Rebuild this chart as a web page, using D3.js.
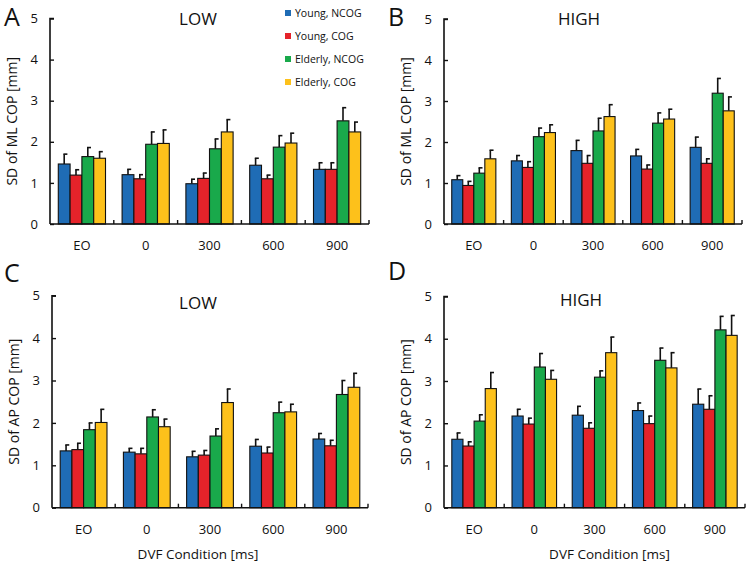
<!DOCTYPE html>
<html><head><meta charset="utf-8">
<script src="https://cdn.jsdelivr.net/npm/d3@7"></script>
<style>body{margin:0;background:#fff}svg{display:block}text{font-family:"Open Sans",sans-serif;fill:#111}</style>
</head><body><svg id="c" width="748" height="565"></svg>
<script>
const categories = ["EO","0","300","600","900"];
const seriesNames = ["Young, NCOG","Young, COG","Elderly, NCOG","Elderly, COG"];
const seriesColors = ["#1f6cb5","#e5232a","#19a94b","#fdc11b"];
const yTicks = [0,1,2,3,4,5];

// values [category][series]
const mlLowMean = [[1.46,1.19,1.64,1.60],[1.20,1.10,1.94,1.96],[0.98,1.11,1.83,2.24],[1.43,1.10,1.87,1.97],[1.33,1.33,2.51,2.24]];
const mlLowErr  = [[0.24,0.13,0.22,0.16],[0.13,0.10,0.30,0.33],[0.11,0.13,0.24,0.30],[0.17,0.09,0.28,0.24],[0.16,0.16,0.32,0.24]];
const mlHighMean = [[1.08,0.94,1.24,1.59],[1.54,1.38,2.13,2.23],[1.79,1.48,2.27,2.62],[1.66,1.34,2.46,2.56],[1.87,1.48,3.19,2.76]];
const mlHighErr  = [[0.10,0.10,0.13,0.21],[0.13,0.14,0.21,0.19],[0.25,0.19,0.31,0.29],[0.16,0.10,0.25,0.24],[0.25,0.11,0.36,0.34]];
const apLowMean = [[1.34,1.37,1.84,2.01],[1.31,1.27,2.14,1.91],[1.20,1.24,1.69,2.48],[1.45,1.29,2.24,2.26],[1.62,1.46,2.67,2.84]];
const apLowErr  = [[0.14,0.15,0.16,0.31],[0.09,0.13,0.17,0.18],[0.13,0.11,0.17,0.32],[0.16,0.14,0.25,0.18],[0.13,0.13,0.33,0.33]];
const apHighMean = [[1.62,1.46,2.05,2.82],[2.17,1.98,3.33,3.04],[2.19,1.88,3.09,3.67],[2.30,1.99,3.49,3.31],[2.45,2.33,4.21,4.08]];
const apHighErr  = [[0.15,0.10,0.15,0.38],[0.16,0.14,0.32,0.21],[0.21,0.13,0.15,0.37],[0.18,0.18,0.29,0.36],[0.36,0.32,0.32,0.47]];

const panels = [
  {letter:"A", title:"LOW",  ylabel:"SD of ML COP [mm]", mean:mlLowMean,  err:mlLowErr,  x0:50,  x1:369, y0:224,   y5:18.5, lx:4,   ly:26,  tx:198, ty:25,  xtitle:false, legend:true},
  {letter:"B", title:"HIGH", ylabel:"SD of ML COP [mm]", mean:mlHighMean, err:mlHighErr, x0:444, x1:742, y0:224,   y5:19,   lx:388, ly:26,  tx:579, ty:25,  xtitle:false},
  {letter:"C", title:"LOW",  ylabel:"SD of AP COP [mm]", mean:apLowMean,  err:apLowErr,  x0:52,  x1:368, y0:507.7, y5:295.7,lx:4,   ly:282, tx:198, ty:309, xtitle:true},
  {letter:"D", title:"HIGH", ylabel:"SD of AP COP [mm]", mean:apHighMean, err:apHighErr, x0:444, x1:745, y0:507.7, y5:296.5,lx:388, ly:280, tx:581, ty:306, xtitle:true}
];

const svg = d3.select("#c");

panels.forEach(p => {
  const g = svg.append("g");
  const y = d3.scaleLinear().domain([0,5]).range([p.y0,p.y5]);
  const x = d3.scaleBand().domain(categories).range([p.x0,p.x1]).paddingInner(0.26).paddingOuter(0.13);
  const xs = d3.scaleBand().domain(d3.range(seriesNames.length)).range([0,x.bandwidth()]);
  const step = x.step();

  // bars
  categories.forEach((c,ci) => {
    const gg = g.append("g").attr("transform",`translate(${x(c)},0)`);
    seriesNames.forEach((s,si) => {
      const v = p.mean[ci][si], e = p.err[ci][si];
      const bx = xs(si), bw = xs.bandwidth();
      const cx = bx + bw/2;
      gg.append("line").attr("x1",cx).attr("x2",cx).attr("y1",y(v)).attr("y2",y(v+e))
        .attr("stroke","#111").attr("stroke-width",1.6);
      gg.append("line").attr("x1",cx-0.8).attr("x2",cx+3.2).attr("y1",y(v+e)).attr("y2",y(v+e))
        .attr("stroke","#111").attr("stroke-width",1.6);
      gg.append("rect").attr("x",bx).attr("y",y(v)).attr("width",bw).attr("height",y(0)-y(v))
        .attr("fill",seriesColors[si]).attr("stroke","#111").attr("stroke-width",1.1);
    });
  });

  // y axis
  const ya = d3.axisLeft(y).tickValues(yTicks).tickSize(-4).tickPadding(12).tickFormat(d3.format("d"));
  const yg = g.append("g").attr("transform",`translate(${p.x0},0)`).call(ya);
  yg.select(".domain").attr("d",`M4,${p.y5}H0V${p.y0}`).attr("stroke","#111").attr("stroke-width",1.6);
  yg.selectAll(".tick line").attr("stroke","#111").attr("stroke-width",1.4);
  yg.selectAll(".tick text").attr("font-size",13).attr("font-family","'Open Sans',sans-serif").attr("fill","#111");

  // x axis
  const xa = d3.axisBottom(x).tickSize(0).tickPadding(17);
  const xg = g.append("g").attr("transform",`translate(0,${p.y0})`).call(xa);
  xg.select(".domain").attr("d",`M${p.x0},0H${p.x1}`).attr("stroke","#111").attr("stroke-width",1.6);
  xg.selectAll(".tick text").attr("font-size",13).attr("font-family","'Open Sans',sans-serif").attr("fill","#111");
  d3.range(1,categories.length+1).forEach(i => {
    const tx = p.x0 + i*step;
    xg.append("line").attr("x1",tx).attr("x2",tx).attr("y1",0).attr("y2",-4).attr("stroke","#111").attr("stroke-width",1.4);
  });

  // titles
  g.append("text").attr("x",p.lx).attr("y",p.ly).attr("font-size",25).text(p.letter);
  g.append("text").attr("x",p.tx).attr("y",p.ty).attr("text-anchor","middle").attr("font-size",17).text(p.title);
  g.append("text").attr("transform",`translate(${p.x0-33},${(p.y0+p.y5)/2}) rotate(-90)`)
    .attr("text-anchor","middle").attr("font-size",14).text(p.ylabel);
  if (p.xtitle) {
    g.append("text").attr("x",(p.x0+p.x1)/2+(p.letter==="D"?15:-12)).attr("y",559).attr("text-anchor","middle")
      .attr("font-size",13.5).text("DVF Condition [ms]");
  }
  if (p.legend) {
    const lg = g.append("g").attr("transform","translate(285,0)");
    seriesNames.forEach((s,si) => {
      const cy = 13 + si*23;
      lg.append("rect").attr("x",0).attr("y",cy-3).attr("width",6).attr("height",6).attr("fill",seriesColors[si]);
      lg.append("text").attr("x",10).attr("y",cy+3.8).attr("font-size",10.5).text(s);
    });
  }
});
</script></body></html>
